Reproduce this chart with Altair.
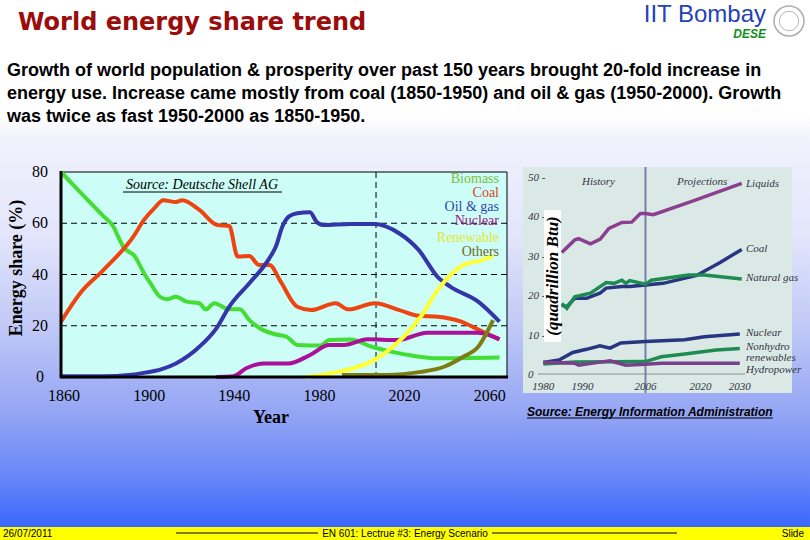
import altair as alt
import pandas as pd

# ---------------- Main chart (Source: Deutsche Shell AG), energy share %
biomass_year = [1860, 1870, 1880, 1884.6, 1887, 1889.3, 1894.8, 1899, 1902, 1906.5, 1909.6, 1914, 1919, 1925, 1928, 1932, 1939, 1944, 1948.5, 1955, 1961, 1966, 1971, 1982, 1986, 1996, 2006, 2015, 2026, 2036, 2066]
biomass_share = [80, 71.3, 62.7, 58.7, 54.5, 50.8, 47, 40.5, 36.6, 31.3, 30.3, 31.3, 29.4, 28.8, 26.4, 28.8, 26.4, 26.4, 22.2, 18.3, 16.6, 15.7, 12.5, 12.3, 14.4, 14.6, 11.8, 9.9, 8.2, 7.3, 7.6]
coal_year = [1860, 1869, 1880, 1894, 1899, 1904, 1908, 1914, 1917, 1925, 1933.5, 1939, 1943, 1948.5, 1953, 1958, 1963, 1971, 1977.5, 1989, 1995, 2007.5, 2019, 2028, 2037, 2048, 2058, 2066]
coal_share = [21.6, 32.7, 41.8, 54.8, 61.3, 66, 69, 68.3, 69, 65.2, 59.3, 59, 47, 47.2, 43.7, 43.7, 37.5, 27.4, 26.1, 28.8, 26.4, 28.8, 26.1, 23.9, 23.5, 21.6, 17.7, 14.7]
oil_year = [1860, 1880, 1892, 1899.5, 1907, 1914, 1925, 1933, 1939, 1948.5, 1956, 1958, 1961, 1964, 1967, 1971, 1977, 1980, 1983, 1996, 2007, 2019, 2028, 2037, 2043, 2056, 2066]
oil_share = [0.3, 0.3, 0.8, 1.7, 3, 5.3, 11.8, 19, 27.4, 36.6, 44, 46.5, 51, 58.7, 62.6, 63.9, 64.3, 60.6, 59.3, 59.7, 59.7, 56, 49.6, 39, 35.2, 29.4, 21.6]
nuclear_year = [1933, 1941, 1947, 1955, 1967, 1977, 1986, 1993, 2004, 2018, 2032, 2056, 2066]
nuclear_share = [0, 0.3, 3.4, 5.3, 5.3, 8.6, 12.5, 12.5, 14.7, 14.4, 17.3, 17.3, 14.7]
renew_year = [1975, 1990, 2005.7, 2013, 2021, 2029, 2037, 2043, 2049, 2057, 2063]
renew_share = [0, 2, 6, 9.9, 15.7, 23.5, 34, 39.8, 43.7, 45.4, 47.2]
others_year = [1992, 2013, 2029, 2040, 2049, 2056, 2063]
others_share = [0.8, 0.8, 2, 4, 7.9, 11.8, 22.2]

main_series = ["Biomass", "Coal", "Nuclear", "Oil & gas", "Others", "Renewable"]
main_line_colors = ["#44dd33", "#ee4411", "#aa1199", "#3535aa", "#7d7d12", "#ffff33"]
legend_names = ["Biomass", "Coal", "Oil & gas", "Nuclear", "Renewable", "Others"]
legend_colors = ["#80c040", "#dd4422", "#3344aa", "#a0158c", "#e6e633", "#6b6b1a"]

main_x_ticks = [1860, 1900, 1940, 1980, 2020, 2060]
main_y_ticks = [0, 20, 40, 60, 80]
main_grid = [20, 40, 60]
now_year = [2008]

# ---------------- Right chart (Source: EIA), quadrillion Btu
liquids_year = [1984.7, 1988, 1989, 1992, 1994.5, 1996.7, 2000, 2002.5, 2004.7, 2006, 2008, 2017.6, 2030.5]
liquids_val = [31, 34.2, 34.5, 33.2, 34.4, 37.1, 38.6, 38.7, 40.9, 40.9, 40.6, 43.9, 48.5]
coalr_year = [1984.7, 1986, 1988, 1991, 1994.4, 1996, 2000, 2002, 2006, 2010.5, 2019, 2025, 2030.5]
coalr_val = [17.7, 17.3, 19.4, 19.4, 20.7, 22, 22.4, 22.4, 22.8, 23.2, 25.2, 28.5, 31.8]
gas_year = [1984.7, 1986, 1988, 1992, 1996, 1998, 2000, 2001, 2002, 2006, 2007.5, 2017, 2021, 2030.5]
gas_val = [18.1, 16.9, 19.8, 20.7, 23.4, 23.2, 24, 23.2, 23.9, 23, 24, 25.3, 25.3, 24.3]
nucr_year = [1980, 1984, 1987.5, 1991, 1994.4, 1997, 1999.7, 2006, 2016, 2021, 2030]
nucr_val = [3.2, 3.8, 5.7, 6.5, 7.4, 6.8, 8.1, 8.5, 8.9, 9.7, 10.4]
nonhydro_year = [1980, 1988, 2006, 2010, 2016, 2024, 2030]
nonhydro_val = [2.8, 3.3, 3.4, 4.6, 5.3, 6.3, 6.7]
hydro_year = [1980, 1988, 1989, 1994, 1997, 2001, 2006, 2010, 2030]
hydro_val = [3.2, 3.0, 2.5, 3.2, 3.6, 2.5, 2.7, 3.0, 3.0]

right_series = ["Liquids", "Coal", "Natural gas", "Nuclear", "Nonhydro", "Hydropower"]
right_colors = ["#8c3f8f", "#283580", "#1e8c50", "#283580", "#1e8c50", "#7a3f8a"]
right_x_ticks = [1980, 1990, 2006, 2020, 2030]
right_y_ticks = [0, 10, 20, 30, 40, 50]
right_divider = [2006]

SERIF = "Liberation Serif"
SANS = "Liberation Sans"


def one():
    return alt.Data(values=[{}])


def txt(s, x, y, size=12, color="black", font=SANS, weight="normal", style="normal",
        align="left", angle=0, baseline="alphabetic"):
    return alt.Chart(one()).mark_text(
        text=s, fontSize=size, color=color, font=font, fontWeight=weight,
        fontStyle=style, align=align, angle=angle, baseline=baseline
    ).encode(x=alt.value(x), y=alt.value(y))


def box(x1, x2, y1, y2, fill, stroke=None, sw=0):
    kw = dict(fill=fill)
    if stroke:
        kw.update(stroke=stroke, strokeWidth=sw)
    return alt.Chart(one()).mark_rect(**kw).encode(
        x=alt.value(x1), x2=alt.value(x2), y=alt.value(y1), y2=alt.value(y2))


def hline(x1, x2, y, color="black", w=1, dash=None):
    kw = dict(color=color, strokeWidth=w)
    if dash:
        kw["strokeDash"] = dash
    return alt.Chart(one()).mark_rule(**kw).encode(
        x=alt.value(x1), x2=alt.value(x2), y=alt.value(y))


def vline(x, y1, y2, color="black", w=1):
    return alt.Chart(one()).mark_rule(color=color, strokeWidth=w).encode(
        x=alt.value(x), y=alt.value(y1), y2=alt.value(y2))


def series_df(items, xname, yname):
    rows = []
    for name, xs, ys in items:
        for a, b in zip(xs, ys):
            rows.append({"series": name, xname: a, yname: b})
    return pd.DataFrame(rows)


# ---------------- background
gradient = {
    "gradient": "linear", "x1": 0, "y1": 0, "x2": 0, "y2": 1,
    "stops": [
        {"offset": 0.0, "color": "#ffffff"},
        {"offset": 0.22, "color": "#ffffff"},
        {"offset": 0.26, "color": "#f2f2fd"},
        {"offset": 0.45, "color": "#e2e5fb"},
        {"offset": 0.62, "color": "#c0c9f6"},
        {"offset": 0.78, "color": "#95a6f4"},
        {"offset": 0.9, "color": "#6a88f8"},
        {"offset": 1.0, "color": "#3a67ff"},
    ],
}
bg = alt.Chart(one()).mark_rect(fill=gradient).encode(
    x=alt.value(0), x2=alt.value(810), y=alt.value(0), y2=alt.value(527))
footer = box(0, 810, 527, 540, "#ffff00")

header = [
    txt("World energy share trend", 18, 30, size=24, color="#9b0d0d", font="DejaVu Sans", weight="bold"),
    txt("IIT Bombay", 766, 22, size=24, color="#2442b8", font=SANS, align="right"),
    txt("DESE", 766, 38, size=12, color="#10901a", font=SANS, weight="bold", style="italic", align="right"),
    alt.Chart(one()).mark_point(shape="circle", filled=False, size=900, stroke="#8a8a8a", strokeWidth=1.5)
    .encode(x=alt.value(789), y=alt.value(21)),
    alt.Chart(one()).mark_point(shape="circle", filled=False, size=380, stroke="#9a9a9a", strokeWidth=1)
    .encode(x=alt.value(789), y=alt.value(21)),
    txt("Growth of world population & prosperity over past 150 years brought 20-fold increase in", 7, 76, size=18, weight="bold"),
    txt("energy use. Increase came mostly from coal (1850-1950) and oil & gas (1950-2000).  Growth", 7, 99, size=18, weight="bold"),
    txt("was twice as fast 1950-2000 as 1850-1950.", 7, 122, size=18, weight="bold"),
]

foot = [
    txt("26/07/2011", 3, 537, size=10),
    txt("EN 601: Lectrue #3: Energy Scenario", 405, 537, size=10, align="center"),
    txt("Slide", 804, 537, size=10, align="right"),
    hline(176, 318, 533),
    hline(492, 677, 533),
]

# ---------------- main chart
xs_main = alt.Scale(domain=[1860, 2070], range=[61, 508], nice=False, zero=False)
ys_main = alt.Scale(domain=[0, 80], range=[377, 172], nice=False, zero=False)

main_df = series_df([
    ("Biomass", biomass_year, biomass_share),
    ("Coal", coal_year, coal_share),
    ("Nuclear", nuclear_year, nuclear_share),
    ("Oil & gas", oil_year, oil_share),
    ("Others", others_year, others_share),
    ("Renewable", renew_year, renew_share),
], "year", "share")

main_lines = alt.Chart(main_df).mark_line(strokeWidth=4, interpolate="monotone").encode(
    x=alt.X("year:Q", scale=xs_main, axis=None),
    y=alt.Y("share:Q", scale=ys_main, axis=None),
    color=alt.Color("series:N", scale=alt.Scale(domain=main_series, range=main_line_colors), legend=None),
    order=alt.Order("year:Q"),
)

grid = alt.Chart(pd.DataFrame({"share": main_grid})).mark_rule(
    color="black", strokeWidth=1, strokeDash=[6, 4]).encode(
    y=alt.Y("share:Q", scale=ys_main, axis=None), x=alt.value(61), x2=alt.value(507))
now_rule = alt.Chart(pd.DataFrame({"year": now_year})).mark_rule(
    color="black", strokeWidth=1, strokeDash=[6, 4]).encode(
    x=alt.X("year:Q", scale=xs_main, axis=None), y=alt.value(172), y2=alt.value(377))
xlab = alt.Chart(pd.DataFrame({"year": main_x_ticks})).mark_text(
    font=SERIF, fontSize=16, color="black", baseline="middle", dx=3).encode(
    x=alt.X("year:Q", scale=xs_main, axis=None), y=alt.value(396), text=alt.Text("year:Q", format="d"))
ylab = alt.Chart(pd.DataFrame({"share": main_y_ticks})).mark_text(
    font=SERIF, fontSize=16, color="black", baseline="middle", align="center").encode(
    y=alt.Y("share:Q", scale=ys_main, axis=None), x=alt.value(40), text=alt.Text("share:Q", format="d"))

main_layer = alt.layer(grid, now_rule, main_lines, xlab, ylab)

main_deco = [
    box(61, 507, 172, 377, "#ccfdf7", stroke="black", sw=1),
]
main_axes = [
    vline(61, 171, 378, w=3),
    hline(60, 508, 377, w=3),
]
main_text = [
    txt("Energy share (%)", 22, 268, size=18, font=SERIF, weight="bold", angle=270, align="center"),
    txt("Year", 271, 423, size=18, font=SERIF, weight="bold", align="center"),
    txt("Source: Deutsche Shell AG", 202, 189, size=14, font=SERIF, style="italic", align="center"),
    hline(123, 282, 192, w=1),
]
legend_y = [183, 197, 211, 225, 242, 256]
for name, col, yy in zip(legend_names, legend_colors, legend_y):
    main_text.append(txt(name, 499, yy, size=14, font=SERIF, color=col, align="right"))

# ---------------- right chart
xs_r = alt.Scale(domain=[1980, 2030], range=[543.3, 739.8], nice=False, zero=False)
ys_r = alt.Scale(domain=[0, 50], range=[375, 177.5], nice=False, zero=False)

right_df = series_df([
    ("Liquids", liquids_year, liquids_val),
    ("Coal", coalr_year, coalr_val),
    ("Natural gas", gas_year, gas_val),
    ("Nuclear", nucr_year, nucr_val),
    ("Nonhydro", nonhydro_year, nonhydro_val),
    ("Hydropower", hydro_year, hydro_val),
], "ryear", "qbtu")

right_lines = alt.Chart(right_df).mark_line(strokeWidth=3.5).encode(
    x=alt.X("ryear:Q", scale=xs_r, axis=None),
    y=alt.Y("qbtu:Q", scale=ys_r, axis=None),
    color=alt.Color("series:N", scale=alt.Scale(domain=right_series, range=right_colors), legend=None),
    order=alt.Order("ryear:Q"),
)
divider = alt.Chart(pd.DataFrame({"ryear": right_divider})).mark_rule(color="#7282a8", strokeWidth=2).encode(
    x=alt.X("ryear:Q", scale=xs_r, axis=None), y=alt.value(167), y2=alt.value(393))
rxlab = alt.Chart(pd.DataFrame({"ryear": right_x_ticks})).mark_text(
    font=SERIF, fontSize=11, fontStyle="italic", color="#333344", baseline="middle").encode(
    x=alt.X("ryear:Q", scale=xs_r, axis=None), y=alt.value(387), text=alt.Text("ryear:Q", format="d"))
rylab = alt.Chart(pd.DataFrame({"qbtu": right_y_ticks})).transform_calculate(
    label="datum.qbtu == 0 ? '0' : datum.qbtu + ' -'").mark_text(
    font=SERIF, fontSize=11, fontStyle="italic", color="#333344", baseline="middle", align="left").encode(
    y=alt.Y("qbtu:Q", scale=ys_r, axis=None), x=alt.value(528), text="label:N")

right_layer = alt.layer(divider, right_lines, rxlab, rylab)

right_deco = [
    box(523, 792, 167, 393, "#dae9e6"),
    hline(538, 745, 374, color="#8a8f95", w=1),
]
right_text = [
    box(544, 561, 210, 342, "white"),
    txt("(quadrillion Btu)", 558, 276, size=17, font=SERIF, weight="bold", style="italic", angle=270, align="center"),
    txt("History", 582, 185, size=11, font=SERIF, style="italic", color="#333344"),
    txt("Projections", 677, 185, size=11, font=SERIF, style="italic", color="#333344"),
    txt("Liquids", 746, 187, size=11, font=SERIF, style="italic", color="#333344"),
    txt("Coal", 746, 252, size=11, font=SERIF, style="italic", color="#333344"),
    txt("Natural gas", 746, 281, size=11, font=SERIF, style="italic", color="#333344"),
    txt("Nuclear", 746, 336, size=11, font=SERIF, style="italic", color="#333344"),
    txt("Nonhydro", 746, 350, size=11, font=SERIF, style="italic", color="#333344"),
    txt("renewables", 746, 361, size=11, font=SERIF, style="italic", color="#333344"),
    txt("Hydropower", 746, 373, size=11, font=SERIF, style="italic", color="#333344"),
    txt("Source: Energy Information Administration", 527, 416, size=12, weight="bold", style="italic"),
    hline(527, 773, 418, w=1),
]

layers = [bg, footer] + header + foot + main_deco + [main_layer] + main_axes + main_text \
    + right_deco + [right_layer] + right_text

chart = alt.layer(*layers).resolve_scale(
    x="independent", y="independent", color="independent"
).properties(
    width=810, height=540, padding=0,
    autosize=alt.AutoSizeParams(type="none"),
    background="white",
).configure_view(strokeWidth=0)

chart.save("out.html", embed_options={"renderer": "svg", "actions": False})
